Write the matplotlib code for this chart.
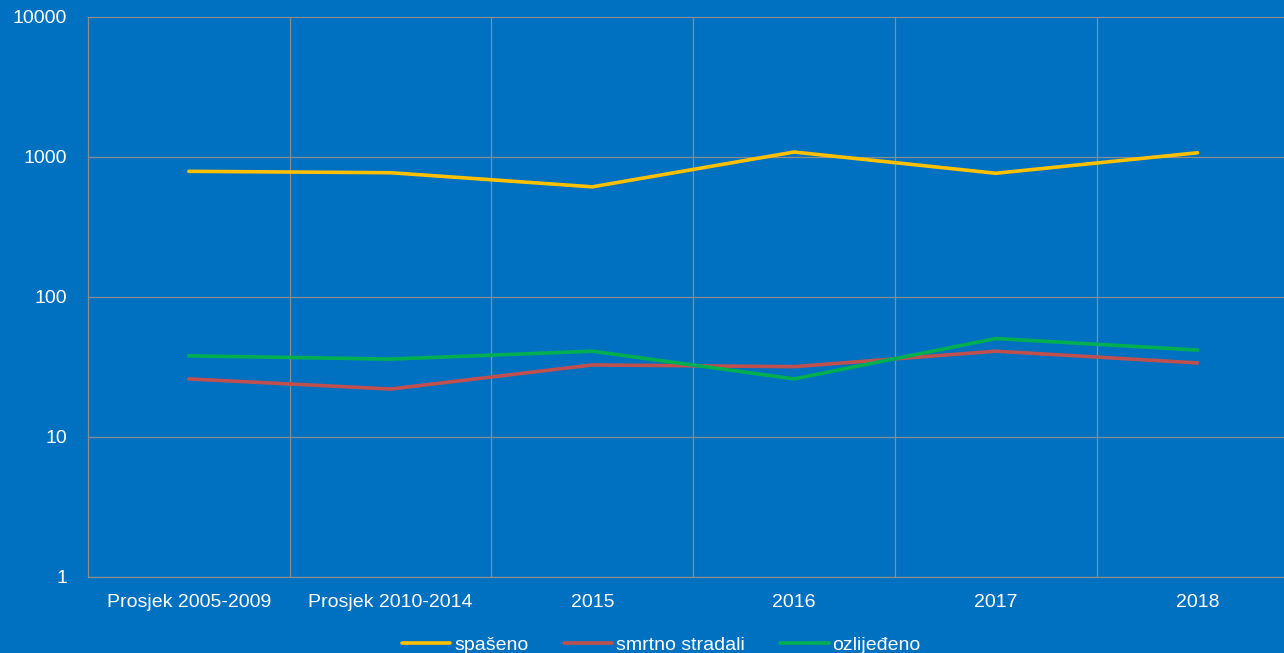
import matplotlib

matplotlib.use("Agg")

import matplotlib.pyplot as plt

categories = ["Prosjek 2005-2009", "Prosjek 2010-2014", "2015", "2016", "2017", "2018"]
spaseno = [790, 772, 612, 1085, 765, 1072]
smrtno_stradali = [26, 22, 32.7, 31.8, 41, 33.8]
ozlijedeno = [38, 36, 41, 26, 50.5, 41.8]

series = [
    ("spašeno", spaseno, "#FFC000"),
    ("smrtno stradali", smrtno_stradali, "#C0504D"),
    ("ozlijeđeno", ozlijedeno, "#00B050"),
]

BG = "#0070C0"
GRID = "#8C8C8C"

plt.rcParams["font.family"] = ["Liberation Sans", "DejaVu Sans"]

fig = plt.figure(figsize=(12.84, 6.53), dpi=100, facecolor=BG)
ax = fig.add_axes([0.0685, 0.1164, 1.0112 - 0.0685, 0.974 - 0.1164])
ax.set_facecolor(BG)

x = list(range(len(categories)))
for label, values, color in series:
    ax.plot(x, values, color=color, linewidth=2.6, label=label,
            solid_capstyle="round", zorder=3)

ax.set_yscale("log")
ax.set_ylim(1, 10000)
ax.set_yticks([1, 10, 100, 1000, 10000])
ax.set_yticklabels(["1", "10", "100", "1000", "10000"])
ax.minorticks_off()
ax.set_xlim(-0.5, len(categories) - 0.5)
ax.set_xticks(x)
ax.set_xticklabels(categories)

# vertical grid between categories
for b in range(1, len(categories)):
    ax.axvline(b - 0.5, color=GRID, linewidth=0.9, zorder=1)
ax.yaxis.grid(True, color=GRID, linewidth=0.9, zorder=1)

for side in ["top", "right"]:
    ax.spines[side].set_visible(False)
for side in ["left", "bottom"]:
    ax.spines[side].set_color(GRID)
    ax.spines[side].set_linewidth(0.9)

ax.tick_params(axis="both", length=0, colors="white", labelsize=14)
ax.tick_params(axis="x", pad=12)
ax.tick_params(axis="y", pad=15)

leg = fig.legend(loc="lower center", bbox_to_anchor=(0.515, -0.028), ncol=3,
                 frameon=False, fontsize=14, handlelength=2.5,
                 handletextpad=0.2, columnspacing=1.8)
for text in leg.get_texts():
    text.set_color("white")

fig.savefig("out.png", dpi=100, facecolor=BG)
